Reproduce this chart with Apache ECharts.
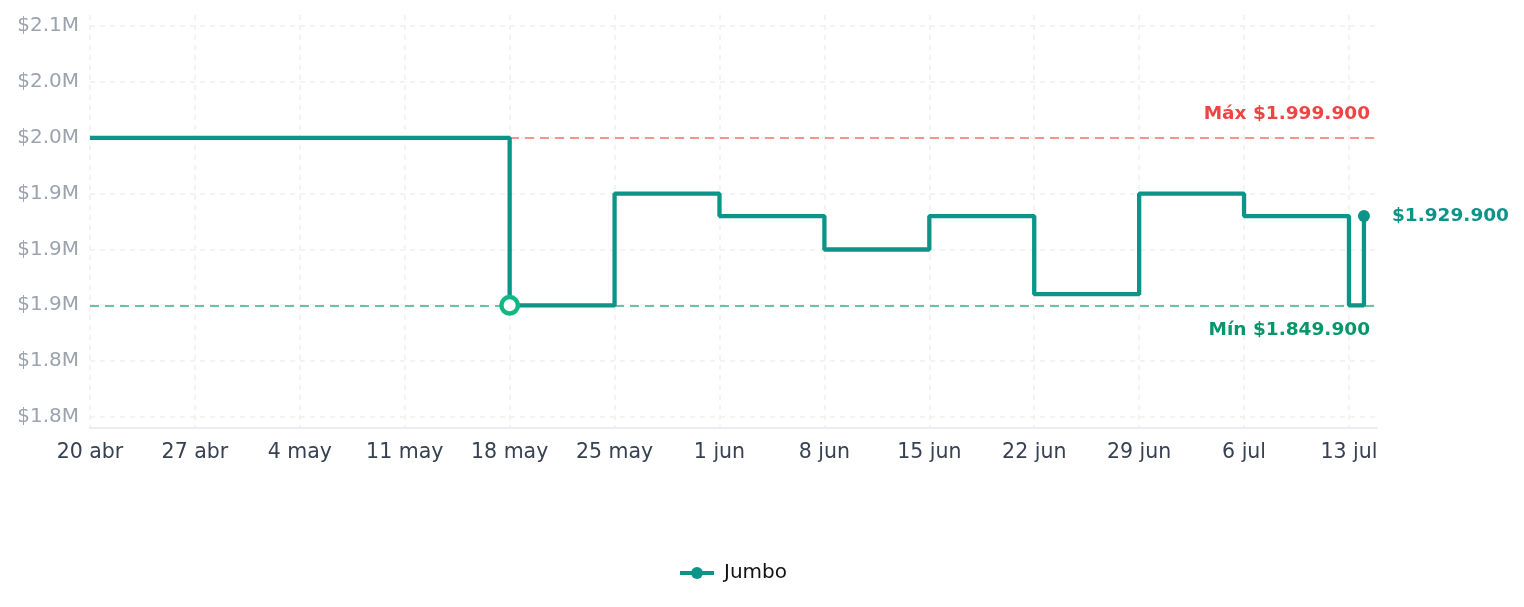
<!DOCTYPE html>
<html>
<head>
<meta charset="utf-8">
<script src="https://cdn.jsdelivr.net/npm/echarts@6/dist/echarts.min.js"></script>
<style>
  html, body { margin: 0; padding: 0; background: #fff; }
  #main { width: 1524px; height: 607px; }
</style>
</head>
<body>
<div id="main"></div>
<script>
// datos del precio (Jumbo)
const dates = ['2025-04-20', '2025-05-18', '2025-05-25', '2025-06-01', '2025-06-08', '2025-06-15',
  '2025-06-22', '2025-06-29', '2025-07-06', '2025-07-13', '2025-07-14'];
const prices = [1999900, 1849900, 1949900, 1929900, 1899900, 1929900,
  1859900, 1949900, 1929900, 1849900, 1929900];
const yTicks = [1750000, 1800000, 1850000, 1900000, 1950000, 2000000, 2050000, 2100000];
const xTickDates = ['2025-04-20', '2025-04-27', '2025-05-04', '2025-05-11', '2025-05-18', '2025-05-25',
  '2025-06-01', '2025-06-08', '2025-06-15', '2025-06-22', '2025-06-29', '2025-07-06', '2025-07-13'];
const meses = ['ene', 'feb', 'mar', 'abr', 'may', 'jun', 'jul', 'ago', 'sep', 'oct', 'nov', 'dic'];

const DAY = 86400000;
const toMs = (s) => { const p = s.split('-'); return Date.UTC(+p[0], +p[1] - 1, +p[2]); };
const fmt = (v) => '$' + String(v).replace(/\B(?=(\d{3})+(?!\d))/g, '.');

const maxV = Math.max(...prices);
const minV = Math.min(...prices);
const minIdx = prices.indexOf(minV);
const lastIdx = prices.length - 1;

const seriesData = dates.map((d, i) => {
  const item = { value: [toMs(d), prices[i]], symbol: 'none' };
  if (i === minIdx) {
    item.symbol = 'circle';
    item.symbolSize = 16.5;
    item.itemStyle = { color: '#ffffff', borderColor: '#10b981', borderWidth: 4.5 };
  }
  if (i === lastIdx) {
    item.symbol = 'circle';
    item.symbolSize = 12;
    item.label = {
      show: true, position: 'right', distance: 22,
      formatter: (p) => fmt(p.value[1]),
      color: '#0d9488', fontWeight: 'bold', fontSize: 18.5, fontFamily: 'DejaVu Sans'
    };
  }
  return item;
});

const main = document.getElementById('main');
let myChart = echarts.init(main, null, { renderer: 'canvas' });

const xMin = toMs(dates[0]);
myChart.setOption({
  animation: false,
  textStyle: { fontFamily: 'DejaVu Sans' },
  grid: { left: 90, right: 147, top: 15, bottom: 179, containLabel: false },
  legend: {
    bottom: 19,
    left: 673,
    itemWidth: 34,
    itemHeight: 15,
    lineStyle: { width: 4 },
    textStyle: { fontSize: 20, color: '#111', fontFamily: 'DejaVu Sans', padding: [0, 0, 0, 5] }
  },
  xAxis: {
    type: 'value',
    min: xMin,
    max: xMin + 85.87 * DAY,
    axisLine: { show: true, lineStyle: { color: '#e5e7eb', width: 1.5 } },
    axisTick: { show: false, customValues: xTickDates.map(toMs) },
    axisLabel: {
      customValues: xTickDates.map(toMs),
      color: '#374151', fontSize: 20.5, margin: 14,
      formatter: (v) => {
        const d = new Date(v);
        return d.getUTCDate() + ' ' + meses[d.getUTCMonth()];
      }
    },
    splitLine: { show: true, lineStyle: { color: '#f0f0f0', width: 1.5, type: [5, 5] } }
  },
  yAxis: {
    type: 'value',
    min: 1740000,
    max: 2110000,
    axisLine: { show: false },
    axisTick: { show: false, customValues: yTicks },
    axisLabel: {
      customValues: yTicks,
      color: '#9ca3af', fontSize: 20, margin: 11,
      formatter: (v) => '$' + (v / 1e6).toFixed(1) + 'M'
    },
    splitLine: { show: true, lineStyle: { color: '#f0f0f0', width: 1.5, type: [5, 5] } }
  },
  series: [
    {
      name: 'Jumbo',
      type: 'line',
      step: 'end',
      symbol: 'circle',
      symbolSize: 12,
      data: seriesData,
      lineStyle: { color: '#0d9488', width: 4.3 },
      itemStyle: { color: '#0d9488' },
      z: 3,
      markLine: {
        silent: true,
        symbol: 'none',
        z: 1,
        data: [
          {
            yAxis: maxV,
            lineStyle: { color: '#f87171', width: 1.5, type: [9, 6] },
            label: {
              position: 'insideEndTop', distance: [7, 14],
              formatter: 'Máx ' + fmt(maxV),
              color: '#ef4444', fontWeight: 'bold', fontSize: 18.5, fontFamily: 'DejaVu Sans'
            }
          },
          {
            yAxis: minV,
            lineStyle: { color: '#34b38a', width: 1.5, type: [9, 6] },
            label: {
              position: 'insideEndBottom', distance: [7, 15],
              formatter: 'Mín ' + fmt(minV),
              color: '#059669', fontWeight: 'bold', fontSize: 18.5, fontFamily: 'DejaVu Sans'
            }
          }
        ]
      }
    }
  ]
});
</script>
</body>
</html>
